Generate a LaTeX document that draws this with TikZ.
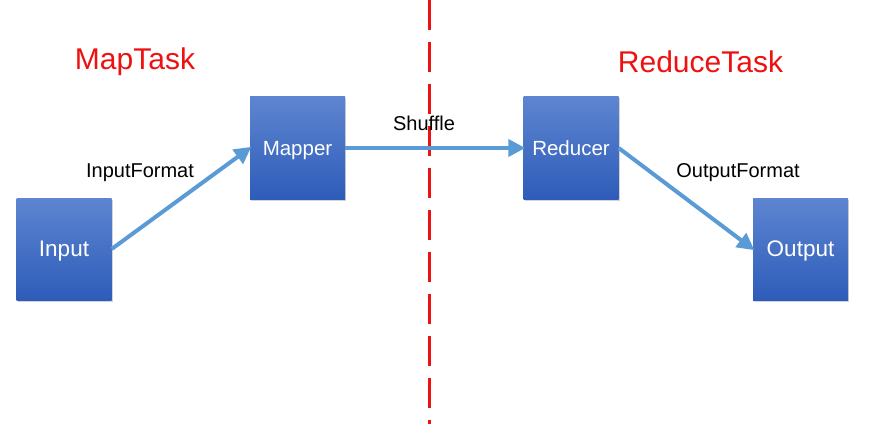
\documentclass[tikz,border=0pt]{standalone}
\usepackage{fontspec}
\setmainfont{Liberation Sans}
\usetikzlibrary{arrows.meta,shadows}

\definecolor{boxtop}{HTML}{5D85D0}
\definecolor{boxbot}{HTML}{2E5CB9}
\definecolor{flow}{HTML}{5B9BD5}
\definecolor{tagred}{HTML}{EE1111}

\tikzset{
  task/.style={draw=none, minimum width=95pt, minimum height=102pt,
    top color=boxtop, bottom color=boxbot, text=white,
    text height=15.5pt, text depth=0pt,
    drop shadow={shadow xshift=1pt, shadow yshift=-1.5pt, opacity=0.35}},
  flowarrow/.style={draw=flow, line width=4pt,
    -{Triangle[length=17pt,width=17pt]}, shorten >=-2pt},
  steplabel/.style={font=\fontsize{20}{23}\selectfont},
  tasklabel/.style={text=tagred, font=\fontsize{30}{33}\selectfont}
}

\begin{document}
\begin{tikzpicture}[x=1pt,y=-1pt]
  % Fix the page to the size of the reference
  \useasboundingbox (0,0) rectangle (874,433);

  % Border between the two halves
  \draw[tagred, line width=3pt, dash pattern=on 30pt off 12pt] (429,0) -- (429,424);

  % Titles of the two halves
  \node[tasklabel] (maptag) at (135,62) {MapTask};
  \node[tasklabel] (reducetag) at (700.5,62) {ReduceTask};

  % The four steps
  \node[task, font=\fontsize{22.5}{25}\selectfont] (input) at (64,249) {Input};
  \node[task, font=\fontsize{20.5}{23}\selectfont] (mapper) at (297.5,148) {Mapper};
  \node[task, font=\fontsize{20.5}{23}\selectfont] (reducer) at (571,148) {Reducer};
  \node[task, font=\fontsize{22.5}{25}\selectfont] (output) at (800.5,249) {Output};

  % Connectors between the steps
  \draw[flowarrow] (input.east) -- (mapper.west);
  \draw[flowarrow] (mapper.east) -- (reducer.west);
  \draw[flowarrow] (reducer.east) -- (output.west);

  % Names of the connectors
  \node[steplabel] (informat) at (140,173) {InputFormat};
  \node[steplabel] (shuffle) at (424,123) {Shuffle};
  \node[steplabel] (outformat) at (738,173) {OutputFormat};
\end{tikzpicture}
\end{document}
